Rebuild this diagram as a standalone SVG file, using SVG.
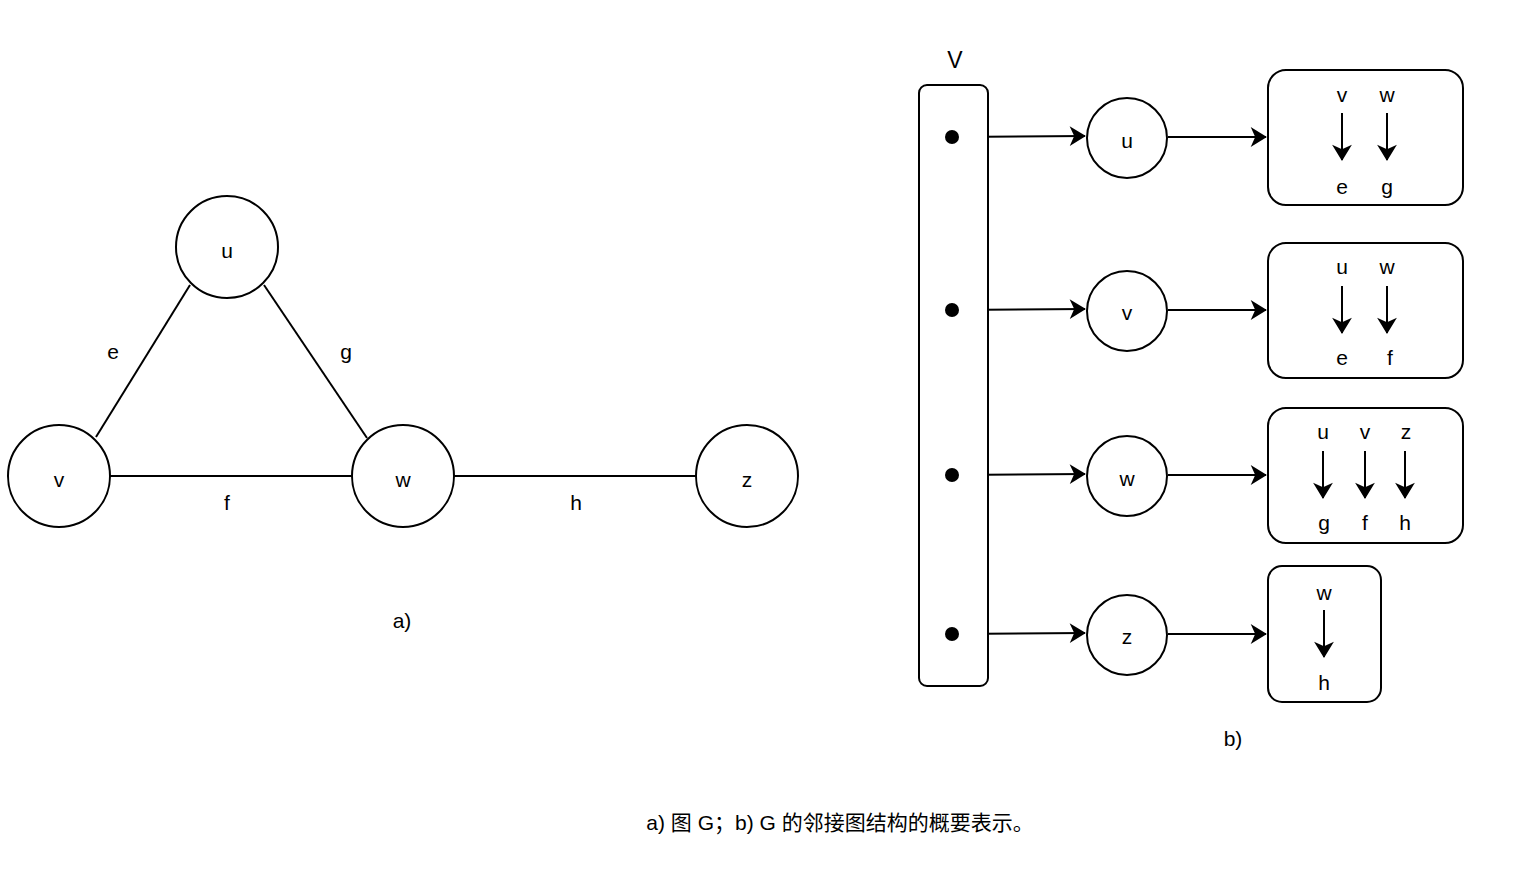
<svg xmlns="http://www.w3.org/2000/svg" width="1528" height="878" viewBox="0 0 1528 878">
<style>
text{font-family:"Liberation Sans",Arial,"Noto Sans CJK SC",sans-serif;font-size:21px;fill:#000;text-anchor:middle;dominant-baseline:central}
.n{fill:#fff;stroke:#000;stroke-width:2}
.l{stroke:#000;stroke-width:2;fill:none}
.a{stroke:#000;stroke-width:2;fill:none;marker-end:url(#ar)}
</style>
<defs><marker id="ar" viewBox="0 0 10 10" refX="9" refY="5" markerWidth="9" markerHeight="9" markerUnits="userSpaceOnUse" orient="auto" style="overflow:visible"><path d="M-9,-6 L9,5 L-9,16 L-4,5 z" transform="translate(1,0)" fill="#000"/></marker></defs>
<rect width="1528" height="878" fill="#fff"/>
<g id="connectors">
<line class="l" x1="190" y1="285" x2="96" y2="437"/>
<line class="l" x1="264" y1="285" x2="367" y2="438"/>
<line class="l" x1="110" y1="476" x2="352" y2="476"/>
<line class="l" x1="454" y1="476" x2="696" y2="476"/>
<text x="113" y="351">e</text><text x="346" y="351">g</text><text x="227" y="502">f</text><text x="576" y="502">h</text>
<line class="a" x1="952" y1="137" x2="1085" y2="136"/>
<line class="a" x1="952" y1="310" x2="1085" y2="309"/>
<line class="a" x1="952" y1="475" x2="1085" y2="474"/>
<line class="a" x1="952" y1="634" x2="1085" y2="633"/>
<line class="a" x1="1168" y1="137" x2="1266" y2="137"/>
<line class="a" x1="1168" y1="310" x2="1266" y2="310"/>
<line class="a" x1="1168" y1="475" x2="1266" y2="475"/>
<line class="a" x1="1168" y1="634" x2="1266" y2="634"/>
</g>
<g id="u"><circle class="n" cx="227" cy="247" r="51"/><text x="227" y="250">u</text></g>
<g id="v"><circle class="n" cx="59" cy="476" r="51"/><text x="59" y="479">v</text></g>
<g id="w"><circle class="n" cx="403" cy="476" r="51"/><text x="403" y="479">w</text></g>
<g id="z"><circle class="n" cx="747" cy="476" r="51"/><text x="747" y="479">z</text></g>
<text x="402" y="620">a)</text>
<g id="V"><rect class="n" x="919" y="85" width="69" height="601" rx="8"/><text x="955" y="60" style="font-size:23px">V</text>
<circle cx="952" cy="137" r="7"/><circle cx="952" cy="310" r="7"/><circle cx="952" cy="475" r="7"/><circle cx="952" cy="634" r="7"/></g>
<g id="bu"><circle class="n" cx="1127" cy="138" r="40"/><text x="1127" y="140">u</text></g>
<g id="bv"><circle class="n" cx="1127" cy="311" r="40"/><text x="1127" y="312">v</text></g>
<g id="bw"><circle class="n" cx="1127" cy="476" r="40"/><text x="1127" y="478">w</text></g>
<g id="bz"><circle class="n" cx="1127" cy="635" r="40"/><text x="1127" y="636">z</text></g>
<g id="lu"><rect class="n" x="1268" y="70" width="195" height="135" rx="18"/>
<text x="1342" y="94">v</text><text x="1387" y="94">w</text>
<line class="a" x1="1342" y1="113" x2="1342" y2="160"/><line class="a" x1="1387" y1="113" x2="1387" y2="160"/>
<text x="1342" y="186">e</text><text x="1387" y="186">g</text></g>
<g id="lv"><rect class="n" x="1268" y="243" width="195" height="135" rx="18"/>
<text x="1342" y="266">u</text><text x="1387" y="266">w</text>
<line class="a" x1="1342" y1="286" x2="1342" y2="333"/><line class="a" x1="1387" y1="286" x2="1387" y2="333"/>
<text x="1342" y="357">e</text><text x="1390" y="357">f</text></g>
<g id="lw"><rect class="n" x="1268" y="408" width="195" height="135" rx="18"/>
<text x="1323" y="431">u</text><text x="1365" y="431">v</text><text x="1406" y="431">z</text>
<line class="a" x1="1323" y1="451" x2="1323" y2="498"/><line class="a" x1="1365" y1="451" x2="1365" y2="498"/><line class="a" x1="1405" y1="451" x2="1405" y2="498"/>
<text x="1324" y="522">g</text><text x="1365" y="522">f</text><text x="1405" y="522">h</text></g>
<g id="lz"><rect class="n" x="1268" y="566" width="113" height="136" rx="14"/>
<text x="1324" y="592">w</text>
<line class="a" x1="1324" y1="610" x2="1324" y2="657"/>
<text x="1324" y="682">h</text></g>
<text x="1233" y="738">b)</text>
<text x="840" y="822">a) 图 G；b) G 的邻接图结构的概要表示。</text>
</svg>
